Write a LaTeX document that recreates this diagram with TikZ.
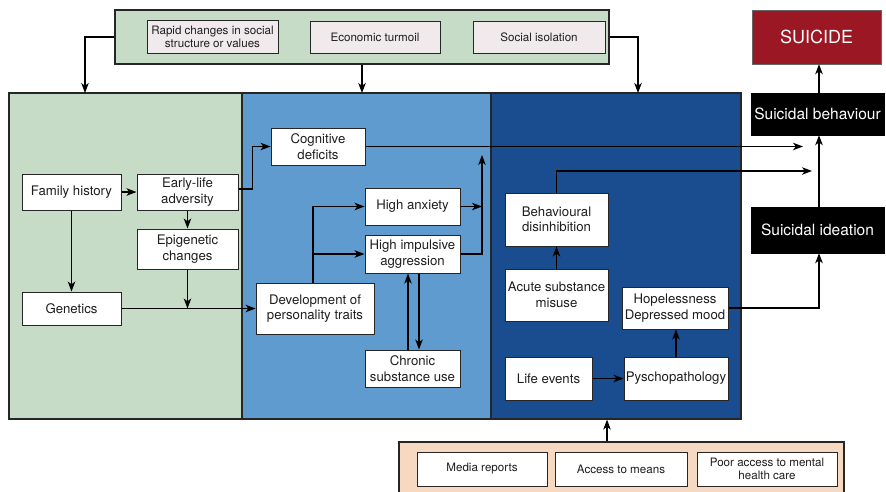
\documentclass[tikz,border=0pt]{standalone}
\usepackage{fontspec}
\setmainfont{TeX Gyre Heros}
\usetikzlibrary{arrows.meta}
\definecolor{panelgreen}{RGB}{198,220,199}
\definecolor{panellight}{RGB}{95,155,207}
\definecolor{paneldark}{RGB}{26,77,143}
\definecolor{boxgrey}{RGB}{240,234,236}
\definecolor{peach}{RGB}{247,216,193}
\definecolor{suicidered}{RGB}{155,23,35}
\definecolor{txt}{RGB}{30,30,30}
\tikzset{
  panel/.style={draw=black!85, line width=1.2pt, inner sep=0pt},
  box/.style={draw=black!85, fill=white, line width=1pt, align=center, inner sep=0pt,
    text=txt, font=\fontsize{13.2}{15.5}\selectfont},
  smallbox/.style={box, font=\fontsize{11.6}{13}\selectfont},
  darkbox/.style={fill=black, draw=black, align=center, inner sep=0pt, text=white,
    font=\fontsize{15.5}{18}\selectfont},
  arr/.style={-{Stealth[length=10pt,width=7.5pt,inset=2.8pt]}, line width=1.1pt, draw=black},
}
\begin{document}
\begin{tikzpicture}[x=1pt,y=-1pt]
\useasboundingbox (0,0) rectangle (886,491);

% societal factors (top) and the three-stage panels
\node[panel, fill=panelgreen, minimum width=494, minimum height=54] (topbox) at (362,37) {};
\node[panel, fill=panelgreen, minimum width=233, minimum height=326] (lpan) at (125.5,256) {};
\node[panel, fill=panellight, minimum width=249, minimum height=326] (mpan) at (366.5,256) {};
\node[panel, fill=paneldark, minimum width=250, minimum height=326] (rpan) at (616,256) {};
\node[panel, fill=peach, minimum width=445, minimum height=52] (botbox) at (621.5,468) {};

% top boxes
\node[smallbox, fill=boxgrey, minimum width=131, minimum height=33] (rapid) at (212.5,37) {Rapid changes in social\\structure or values};
\node[smallbox, fill=boxgrey, minimum width=130, minimum height=32] (econ) at (375,37) {Economic turmoil};
\node[smallbox, fill=boxgrey, minimum width=132, minimum height=32] (social) at (539,37) {Social isolation};

% distal factors
\node[box, minimum width=99, minimum height=36] (fam) at (71.5,192) {Family history};
\node[box, minimum width=101, minimum height=36] (early) at (187.5,192) {Early-life\\adversity};
\node[box, minimum width=101, minimum height=40] (epi) at (187.5,249) {Epigenetic\\changes};
\node[box, minimum width=99, minimum height=33] (gen) at (71.5,308.5) {Genetics};

% developmental factors
\node[box, minimum width=94, minimum height=37] (cog) at (318,146.5) {Cognitive\\deficits};
\node[box, minimum width=95, minimum height=37] (anx) at (412.5,206.5) {High anxiety};
\node[box, minimum width=95, minimum height=38] (imp) at (412.5,254) {High impulsive\\aggression};
\node[box, minimum width=118, minimum height=51] (dev) at (315,308.5) {Development of\\personality traits};
\node[box, minimum width=95, minimum height=37] (chron) at (412.5,368.5) {Chronic\\substance use};

% proximal factors
\node[box, minimum width=103, minimum height=53] (beh) at (556.5,219.5) {Behavioural\\disinhibition};
\node[box, minimum width=103, minimum height=52] (acute) at (556.5,295) {Acute substance\\misuse};
\node[box, minimum width=106, minimum height=42] (hope) at (675,308) {Hopelessness\\Depressed mood};
\node[box, minimum width=87, minimum height=43] (life) at (548.5,378.5) {Life events};
\node[box, minimum width=104, minimum height=43] (psy) at (676,378.5) {Pyschopathology};

% outcomes
\node[fill=suicidered, draw=black!60, inner sep=0pt, text=white, minimum width=129, minimum height=54,
  font=\fontsize{18}{20}\selectfont] (suicide) at (816.5,37) {SUICIDE};
\node[darkbox, minimum width=133, minimum height=42] (sbeh) at (817.5,114) {Suicidal behaviour};
\node[darkbox, minimum width=133, minimum height=46] (side) at (817.5,230) {Suicidal ideation};

% bottom boxes
\node[smallbox, minimum width=130, minimum height=34] (media) at (482,469) {Media reports};
\node[smallbox, minimum width=132, minimum height=34] (access) at (621,469) {Access to means};
\node[smallbox, minimum width=140, minimum height=34] (poor) at (767,469) {Poor access to mental\\health care};

% helper points
\coordinate (la) at (85,93);
\coordinate (ma) at (362,93);
\coordinate (ra) at (638,93);
\coordinate (cogend) at (803,146.5);
\coordinate (behend) at (812,171);
\coordinate (rise) at (482,155);
\coordinate (vx) at (819,0);
\coordinate (bx) at (607,0);

% connectors
\draw[arr] (topbox.west) -| (la);
\draw[arr] (topbox.south -| ma) -- (ma);
\draw[arr] (topbox.east) -| (ra);

\draw[arr] (fam.east) -- (early.west);
\draw[arr] (fam.south) -- (gen.north);
\draw[arr] (early.south) -- (epi.north);
\draw[arr] (epi.south) -- (epi.south |- gen.east);
\draw[arr] (gen.east) -- (dev.west);
\draw[arr] ([yshift=3]early.east) -- ++(14,0) |- (cog.west);
\draw[arr] (cog.east) -- (cogend);

\draw[arr] ([xshift=-2]dev.north) |- (anx.west);
\draw[arr] ([xshift=-2]dev.north |- imp.west) -- (imp.west);
\draw[arr] (imp.east) -| (rise);
\draw[arr] (anx.east) -- (anx.east -| rise);
\draw[arr] ([xshift=-4.5]chron.north) -- ([xshift=-4.5]imp.south);
\draw[arr] ([xshift=6.5]imp.south) -- ([xshift=6.5]chron.north);

\draw[arr] (beh.north) |- (behend);
\draw[arr] (acute.north) -- (beh.south);
\draw[arr] (life.east) -- (psy.west);
\draw[arr] (psy.north) -- (psy.north |- hope.south);
\draw[arr] (hope.east) -| (side.south -| vx);
\draw[arr] (side.north -| vx) -- (sbeh.south -| vx);
\draw[arr] (sbeh.north -| vx) -- (suicide.south -| vx);

\draw[arr] (botbox.north -| bx) -- (rpan.south -| bx);
\end{tikzpicture}
\end{document}
